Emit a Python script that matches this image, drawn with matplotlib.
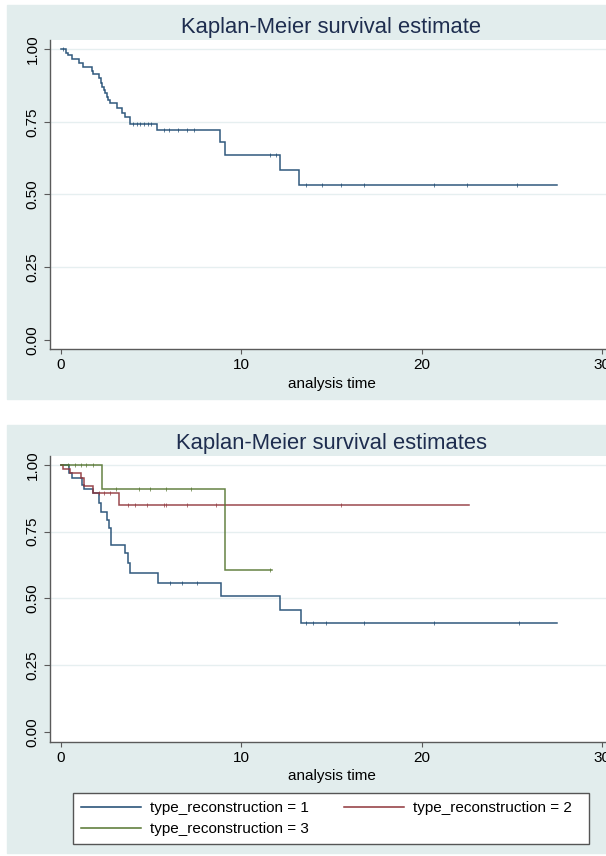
"""Kaplan-Meier survival curves: overall and by type of reconstruction."""

import numpy as np
import matplotlib.pyplot as plt
from matplotlib.lines import Line2D
from matplotlib.patches import Rectangle

plt.rcParams["font.family"] = ["Liberation Sans", "DejaVu Sans"]

W, H = 606, 856

# overall estimate: event times and survival after each event
all_times = [0.3, 0.4, 0.6, 1.0, 1.2, 1.7, 1.8, 2.1, 2.2, 2.3, 2.4, 2.45, 2.53, 2.6, 2.7,
             3.1, 3.4, 3.55, 3.8, 5.3, 8.8, 9.1, 12.15, 13.2]
all_surv = [0.988, 0.979, 0.964, 0.951, 0.937, 0.925, 0.913, 0.899, 0.884, 0.871, 0.859,
            0.848, 0.836, 0.825, 0.813, 0.796, 0.779, 0.765, 0.742, 0.721, 0.681, 0.637,
            0.584, 0.532]
all_end = 27.5
all_censored = [0.1, 4.0, 4.2, 4.4, 4.6, 4.8, 5.0, 5.7, 6.0, 6.5, 7.0, 7.4, 11.6, 11.9,
                13.6, 14.5, 15.5, 16.8, 20.7, 22.5, 25.3]

# by group
groups = ["type_reconstruction = 1", "type_reconstruction = 2", "type_reconstruction = 3"]
colors = ["#1a476f", "#90353b", "#55752f"]

g1_times = [0.45, 0.6, 1.15, 1.3, 1.75, 2.1, 2.2, 2.55, 2.65, 2.8, 3.55, 3.7, 3.85, 5.4,
            8.85, 12.15, 13.3]
g1_surv = [0.969, 0.95, 0.925, 0.91, 0.894, 0.856, 0.825, 0.794, 0.763, 0.70, 0.669,
           0.631, 0.594, 0.559, 0.509, 0.456, 0.406]
g1_end = 27.5
g1_censored = [6.05, 6.7, 7.55, 13.56, 14.0, 14.7, 16.8, 20.7, 25.4]

g2_times = [0.1, 0.5, 1.1, 1.25, 1.75, 3.2]
g2_surv = [0.985, 0.97, 0.95, 0.92, 0.895, 0.85]
g2_end = 22.6
g2_censored = [2.1, 2.4, 2.7, 3.7, 4.1, 4.75, 5.7, 5.85, 7.0, 8.6, 15.5]

g3_times = [2.3, 9.1]
g3_surv = [0.91, 0.605]
g3_end = 11.7
g3_censored = [0.4, 0.8, 1.1, 1.4, 1.8, 3.05, 4.3, 4.95, 5.8, 7.2, 11.6]

xticks = [0, 10, 20, 30]
yticks = [0.0, 0.25, 0.5, 0.75, 1.0]

BG = "#e2eded"
AXIS = "#5a5a5a"
TITLE = "#1e2d4f"


def px_box(left, top, right, bottom):
    return [left / W, 1 - bottom / H, (right - left) / W, (bottom - top) / H]


def km_curve(ax, times, surv, end, censored, color):
    t = np.r_[0.0, times, end]
    s = np.r_[1.0, surv, surv[-1]]
    ax.step(t, s, where="post", color=color, lw=1.1, alpha=0.9, solid_joinstyle="miter")
    idx = np.searchsorted(t, censored, side="right") - 1
    ax.plot(censored, s[idx], ls="none", marker="|", ms=2.4, mew=0.6, alpha=0.8,
            color=color)


def style_axes(ax, ylim):
    ax.set_xlim(-0.61, 30.61)
    ax.set_ylim(*ylim)
    ax.set_xticks(xticks)
    ax.set_yticks(yticks)
    ax.set_yticklabels([f"{v:.2f}" for v in yticks])
    ax.set_facecolor("white")
    for side in ("top", "right"):
        ax.spines[side].set_visible(False)
    for side in ("left", "bottom"):
        ax.spines[side].set_color(AXIS)
        ax.spines[side].set_linewidth(1.0)
    ax.tick_params(axis="x", length=3.3, width=0.8, color=AXIS, pad=3.5, labelsize=11)
    ax.tick_params(axis="y", length=4.5, width=0.8, color=AXIS, pad=3, labelsize=11,
                   labelrotation=90)
    for lab in ax.get_yticklabels():
        lab.set_va("center")
    for v in yticks[1:]:
        ax.axhline(v, color="#e6eff0", lw=1.0, zorder=0)
    ax.set_xlabel("analysis time", fontsize=11, labelpad=3)


fig = plt.figure(figsize=(W / 100, H / 100), dpi=100)
for top, bottom in ((5, 399), (425, 853)):
    fig.patches.append(Rectangle((7 / W, 1 - bottom / H), 599 / W, (bottom - top) / H,
                                 transform=fig.transFigure, color=BG, zorder=-5))

# overall curve
ax1 = fig.add_axes(px_box(50, 40, 613, 349))
style_axes(ax1, (-0.031, 1.031))
km_curve(ax1, all_times, all_surv, all_end, all_censored, colors[0])
fig.text(331 / W, 1 - 28 / H, "Kaplan-Meier survival estimate", ha="center", va="center",
         fontsize=15.8, color=TITLE)

# curves by reconstruction type
ax2 = fig.add_axes(px_box(50, 456, 613, 741.7))
style_axes(ax2, (-0.0375, 1.034))
km_curve(ax2, g1_times, g1_surv, g1_end, g1_censored, colors[0])
km_curve(ax2, g2_times, g2_surv, g2_end, g2_censored, colors[1])
km_curve(ax2, g3_times, g3_surv, g3_end, g3_censored, colors[2])
fig.text(331 / W, 1 - 443 / H, "Kaplan-Meier survival estimates", ha="center", va="center",
         fontsize=15.8, color=TITLE)

# legend: two columns filled row by row, inside a plain box
fig.patches.append(Rectangle((73 / W, 1 - 844 / H), (589 - 73) / W, 51 / H,
                             transform=fig.transFigure, facecolor="white",
                             edgecolor="#555555", lw=1.0, zorder=1))
handles = [Line2D([], [], color=c, lw=1.1) for c in colors]
order = [0, 2, 1]
leg = fig.legend([handles[i] for i in order], [groups[i] for i in order], ncol=2,
                 loc="upper left", bbox_to_anchor=(73 / W, 1 - 793 / H),
                 frameon=False, borderaxespad=0, handlelength=3.9, handletextpad=0.6,
                 columnspacing=2.3, borderpad=0.55, labelspacing=0.45, fontsize=11)
leg.set_zorder(2)

fig.savefig("out.png", dpi=100)
